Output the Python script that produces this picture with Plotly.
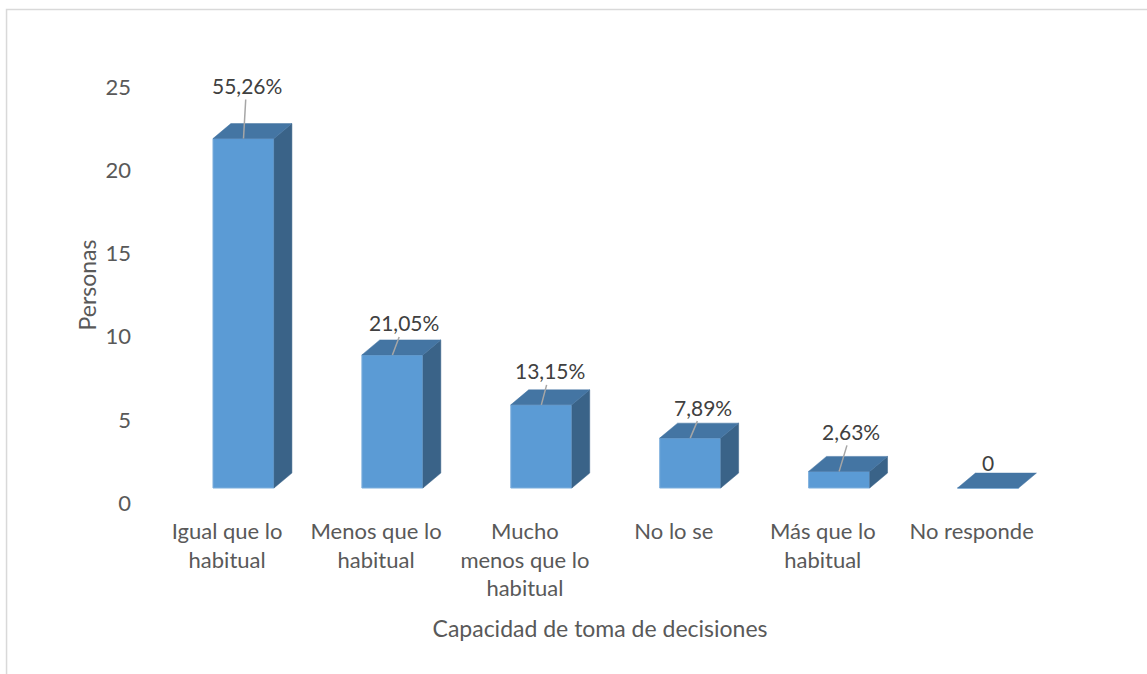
import plotly.graph_objects as go

# ---- data ----
categories = ["Igual que lo<br>habitual", "Menos que lo<br>habitual",
              "Mucho<br>menos que lo<br>habitual", "No lo se",
              "Más que lo<br>habitual", "No responde"]
personas = [21, 8, 5, 3, 1, 0]
porcentajes = ["55,26%", "21,05%", "13,15%", "7,89%", "2,63%", "0"]
y_ticks = [0, 5, 10, 15, 20, 25]

# ---- 3D look parameters (styling) ----
half_w = 0.205      # half width of front face (x units)
depth_x = 0.12      # depth offset in x units
depth_y = 0.9       # depth offset in y units
base = 0.9          # front face floor offset
label_shift = -0.11 # category label offset
label_offsets = [(3, -53), (12, -32), (9, -34), (13, -31), (12, -40), (0, -26)]

FRONT = "#5B9BD5"
TOP = "#4475A3"
SIDE = "#3A6388"
FONT = "Lato"

xs = list(range(len(personas)))

fig = go.Figure()

# front faces
fig.add_trace(go.Bar(
    x=xs, y=personas, base=[base] * len(xs), width=2 * half_w,
    marker=dict(color=FRONT, line=dict(color="#7FB0DD", width=1)),
    hoverinfo="skip", showlegend=False,
))

# side faces
sx, sy = [], []
for x, v in zip(xs, personas):
    if v <= 0:
        continue
    r = x + half_w
    sx += [r, r + depth_x, r + depth_x, r, r, None]
    sy += [base, base + depth_y, base + v + depth_y, base + v, base, None]
fig.add_trace(go.Scatter(x=sx, y=sy, mode="lines", fill="toself",
                         fillcolor=SIDE, line=dict(color=SIDE, width=0.5),
                         hoverinfo="skip", showlegend=False))

# top faces
tx, ty = [], []
for x, v in zip(xs, personas):
    l, r = x - half_w, x + half_w
    t = base + v
    tx += [l, r, r + depth_x, l + depth_x, l, None]
    ty += [t, t, t + depth_y, t + depth_y, t, None]
fig.add_trace(go.Scatter(x=tx, y=ty, mode="lines", fill="toself",
                         fillcolor=TOP, line=dict(color=TOP, width=0.5),
                         hoverinfo="skip", showlegend=False))

# data labels with leader lines
for x, v, txt, (ax, ay) in zip(xs, personas, porcentajes, label_offsets):
    fig.add_annotation(
        x=x, y=base + v, text=txt, showarrow=True, arrowhead=0,
        arrowwidth=1.5,
        arrowcolor="#A6A6A6" if v > 0 else "rgba(0,0,0,0)",
        ax=ax, ay=ay, standoff=0,
        font=dict(family=FONT, size=21, color="#404040"),
    )

# chart border
fig.add_shape(type="rect", xref="paper", yref="paper",
              x0=-0.1594, x1=1.13, y0=-0.45, y1=1.1122,
              line=dict(color="#D9D9D9", width=1.5), fillcolor="rgba(0,0,0,0)",
              layer="below")

fig.update_layout(
    width=1147, height=674,
    margin=dict(l=150, r=97, t=60, b=164),
    paper_bgcolor="white", plot_bgcolor="white",
    font=dict(family=FONT, color="#595959"),
    bargap=0.5,
    hovermode=False,
    xaxis=dict(
        range=[-0.628, 5.416],
        tickmode="array",
        tickvals=[x + label_shift for x in xs],
        ticktext=categories,
        showgrid=False, zeroline=False, showline=False, ticks="",
        ticklabelstandoff=6,
        tickfont=dict(family=FONT, size=22, color="#595959"),
        title=dict(text="Capacidad de toma de decisiones",
                   font=dict(family=FONT, size=23, color="#595959"),
                   standoff=20),
    ),
    yaxis=dict(
        range=[-0.42, 26.62],
        tickmode="array", tickvals=y_ticks,
        ticktext=[str(t) for t in y_ticks],
        showgrid=False, zeroline=False, showline=False, ticks="",
        ticklabelstandoff=18,
        tickfont=dict(family=FONT, size=22, color="#595959"),
        title=dict(text="Personas",
                   font=dict(family=FONT, size=23, color="#595959"),
                   standoff=2),
    ),
)

fig.write_html("out.html",
               config={"displayModeBar": False},
               post_script="document.body.style.margin='0';")
